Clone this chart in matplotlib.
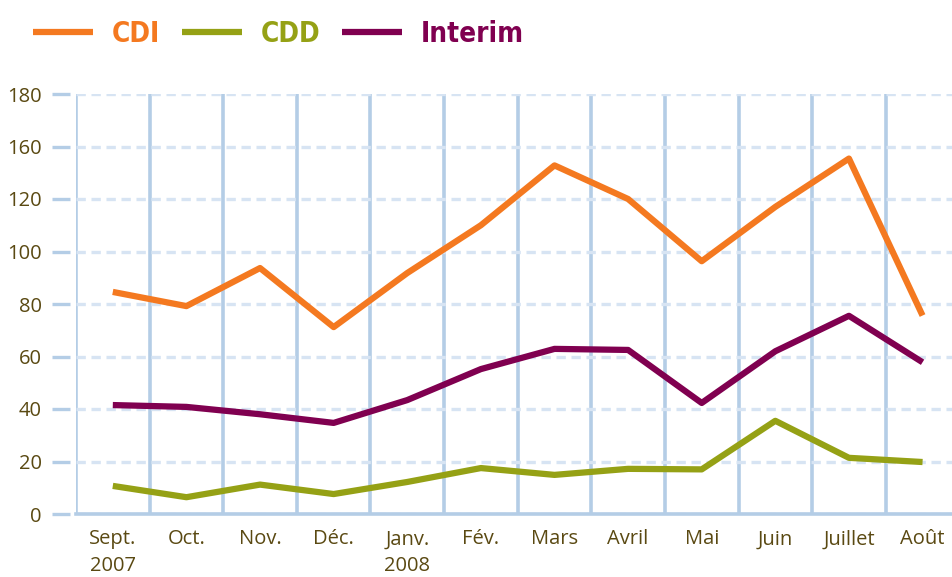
import matplotlib
matplotlib.use("Agg")
import matplotlib.pyplot as plt

# data (y positions in axis units)
months = ["Sept.\n2007", "Oct.", "Nov.", "Déc.", "Janv.\n2008", "Fév.",
          "Mars", "Avril", "Mai", "Juin", "Juillet", "Août"]
cdi = [84.6, 79.2, 93.7, 71.2, 91.8, 110.0, 132.8, 120.0, 96.3, 117.0, 135.4, 75.6]
cdd = [10.7, 6.4, 11.2, 7.6, 12.2, 17.5, 14.9, 17.2, 17.0, 35.5, 21.4, 19.8]
interim = [41.5, 40.8, 38.0, 34.7, 43.4, 55.2, 62.9, 62.5, 42.3, 62.0, 75.5, 57.8]

# y tick labels as printed on the original
ytick_pos = [0, 20, 40, 60, 80, 100, 120, 140, 160]
ytick_labels = ["0", "20", "40", "60", "80", "100", "120", "160", "180"]

orange = "#f47920"
green = "#95a115"
purple = "#800050"
text_col = "#5a4912"
grid_solid = "#b4cde6"
grid_dash = "#d7e4f3"

fig = plt.figure(figsize=(9.52, 5.77), dpi=100)
ax = fig.add_axes([76 / 952, 1 - 514 / 577, 1 - 76 / 952, (514 - 94) / 577])

# spines first (moving a spine resets the ticks)
for s in ["top", "right", "left"]:
    ax.spines[s].set_visible(False)
ax.spines["left"].set_position(("outward", 4.5))
ax.spines["bottom"].set_color(grid_solid)
ax.spines["bottom"].set_linewidth(2.6)

x = list(range(len(months)))
ax.plot(x, cdi, color=orange, lw=4.5, label="CDI", zorder=5, solid_capstyle="butt")
ax.plot(x, cdd, color=green, lw=4.5, label="CDD", zorder=5, solid_capstyle="butt")
ax.plot(x, interim, color=purple, lw=4.5, label="Interim", zorder=5, solid_capstyle="butt")

ax.set_xlim(-0.5, 11.4)
ax.set_ylim(0, 160)

ax.tick_params(axis="x", which="both", length=0, pad=11)
ax.tick_params(axis="y", length=13, width=2.4, color=grid_solid, pad=7)

# vertical separators between months
ax.set_xticks([i - 0.5 for i in x], minor=True)
ax.set_xticks(x)
ax.set_xticklabels(months, fontsize=14.5, color=text_col, family="Open Sans")
for lab in ax.get_xticklabels():
    lab.set_linespacing(1.45)
ax.grid(True, which="minor", axis="x", color=grid_solid, lw=2.6, zorder=2)

ax.set_yticks(ytick_pos)
ax.set_yticklabels(ytick_labels, fontsize=14.5, color=text_col, family="Open Sans")
ax.grid(True, which="major", axis="y", color=grid_dash, lw=2.4,
        linestyle=(0, (2.8, 1.7)), zorder=1)
ax.set_axisbelow(True)

leg = fig.legend(loc="upper left", bbox_to_anchor=(33 / 952, 1 - 20 / 577),
                 ncol=3, frameon=False, borderpad=0, borderaxespad=0,
                 handlelength=2.16, handletextpad=0.68, columnspacing=0.78,
                 labelcolor="linecolor",
                 prop={"family": "DejaVu Sans", "stretch": "condensed",
                       "weight": "bold", "size": 20})

fig.savefig("out.png", dpi=100)
